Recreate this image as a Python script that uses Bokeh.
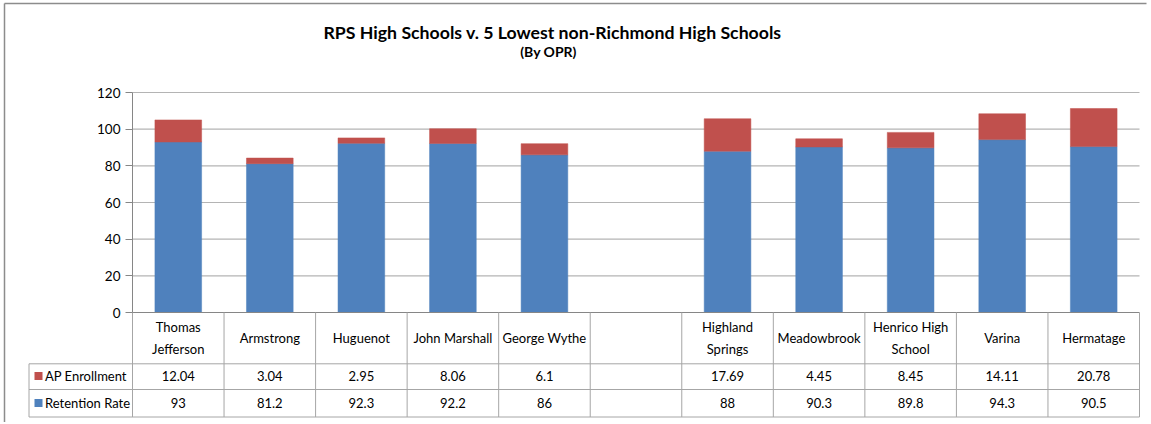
from bokeh.plotting import figure
from bokeh.models import ColumnDataSource, Range1d, FixedTicker
from bokeh.core.properties import value
from bokeh.embed import file_html
from bokeh.resources import INLINE

# ---------------- data ----------------
TITLE = "RPS High Schools v. 5 Lowest non-Richmond High Schools"
SUBTITLE = "(By OPR)"
schools = ["Thomas Jefferson", "Armstrong", "Huguenot", "John Marshall", "George Wythe",
           "Highland Springs", "Meadowbrook", "Henrico High School", "Varina", "Hermatage"]
header_labels = ["Thomas\nJefferson", "Armstrong", "Huguenot", "John Marshall", "George Wythe",
                 "Highland\nSprings", "Meadowbrook", "Henrico High\nSchool", "Varina", "Hermatage"]
series_names = ["AP Enrollment", "Retention Rate"]
ap_enrollment = [12.04, 3.04, 2.95, 8.06, 6.1, 17.69, 4.45, 8.45, 14.11, 20.78]
retention_rate = [93, 81.2, 92.3, 92.2, 86, 88, 90.3, 89.8, 94.3, 90.5]
y_ticks = [0, 20, 40, 60, 80, 100, 120]
group_sizes = [5, 5]   # RPS schools, non-Richmond schools (blank column between)

# ---------------- style ----------------
RED = "#C0504D"
BLUE = "#4F81BD"
GRID = "#B4B4B4"
AXIS = "#868686"
TLINE = "#A6A6A6"
FRAME = "#8C8C8C"
FONT = "Lato"
FS = "13px"

# ---------------- layout (canvas pixels) ----------------
W, H = 1148, 422
PLOT_L, PLOT_R = 132, 1139   # plot area left / right
Y0 = 312                     # canvas y of value 0
Y120 = 92                    # canvas y of value 120
PX = (Y0 - Y120) / 120.0

x_pos = []
start = 0
for g in group_sizes:
    x_pos.extend(range(start, start + g))
    start += g + 1
n_slots = start - 1
slot_px = (PLOT_R - PLOT_L) / n_slots


def xd(cx):
    return -0.5 + (cx - PLOT_L) / slot_px


def yd(cy):
    return (Y0 - cy) / PX


x_lo, x_hi = -0.5, n_slots - 0.5

p = figure(width=W, height=H,
           x_range=Range1d(xd(0), xd(W)),
           y_range=Range1d(yd(H), yd(0)),
           output_backend="svg", toolbar_location=None,
           x_axis_location=None, y_axis_location="left",
           min_border_left=0, min_border_right=0,
           min_border_top=0, min_border_bottom=0)
p.outline_line_color = None
p.grid.visible = False
p.background_fill_color = "white"
p.border_fill_color = "white"

# chart frame (left and top edges visible)
p.segment(x0=[xd(4), xd(4)], y0=[yd(3), yd(3)], x1=[xd(4), xd(1146)], y1=[yd(H), yd(3)],
          line_color=FRAME, line_width=1.5)

# value axis placed at plot-area edge
ax = p.yaxis[0]
ax.fixed_location = x_lo
ax.bounds = (y_ticks[0], y_ticks[-1])
ax.ticker = FixedTicker(ticks=y_ticks)
ax.axis_line_color = AXIS
ax.major_tick_line_color = AXIS
ax.major_tick_out = 7
ax.major_tick_in = 0
ax.minor_tick_line_color = None
ax.major_label_standoff = 5
ax.major_label_text_font = FONT
ax.major_label_text_font_size = "13.5px"
ax.major_label_text_color = "#000000"

# gridlines
gl = y_ticks[1:]
p.segment(x0=[x_lo] * len(gl), y0=gl, x1=[x_hi] * len(gl), y1=gl,
          line_color=GRID, line_width=1.2)

# stacked bars
top = [r + a for r, a in zip(retention_rate, ap_enrollment)]
src = ColumnDataSource(dict(x=x_pos, ret=retention_rate, top=top))
p.vbar(x="x", bottom=0, top="ret", width=0.51, source=src,
       fill_color=BLUE, line_color=BLUE, line_width=0.5)
p.vbar(x="x", bottom="ret", top="top", width=0.51, source=src,
       fill_color=RED, line_color=RED, line_width=0.5)

# category axis line (top edge of data table)
p.segment(x0=[x_lo], y0=[0], x1=[x_hi], y1=[0], line_color=AXIS, line_width=1.2)

# data table lines
row1, row2, row3 = yd(363.3), yd(389), yd(416.5)
legend_left = xd(28.5)
vx = [x_lo + k for k in range(n_slots + 1)]
p.segment(x0=vx, y0=[0] * len(vx), x1=vx, y1=[row3] * len(vx),
          line_color=TLINE, line_width=1)
p.segment(x0=[legend_left], y0=[row1], x1=[legend_left], y1=[row3],
          line_color=TLINE, line_width=1)
p.segment(x0=[legend_left] * 3, y0=[row1, row2, row3], x1=[x_hi] * 3, y1=[row1, row2, row3],
          line_color=TLINE, line_width=1)

# header labels
p.text(x=x_pos, y=[yd(337.3)] * len(x_pos), text=header_labels,
       text_font=value(FONT), text_font_size=FS, text_color="#000000",
       text_align="center", text_baseline="middle", text_line_height=1.4)

# values
y_ap, y_ret = yd(375.5), yd(402.5)
p.text(x=x_pos, y=[y_ap] * len(x_pos), text=[f"{v:g}" for v in ap_enrollment],
       text_font=value(FONT), text_font_size=FS, text_color="#000000",
       text_align="center", text_baseline="middle")
p.text(x=x_pos, y=[y_ret] * len(x_pos), text=[f"{v:g}" for v in retention_rate],
       text_font=value(FONT), text_font_size=FS, text_color="#000000",
       text_align="center", text_baseline="middle")

# legend keys in table
p.scatter(x=[xd(38)] * 2, y=[y_ap, y_ret], marker="square", size=8,
          fill_color=[RED, BLUE], line_color=None)
p.text(x=[xd(44.5)] * 2, y=[y_ap, y_ret], text=series_names,
       text_font=value(FONT), text_font_size=FS, text_color="#000000",
       text_align="left", text_baseline="middle")

# titles
p.text(x=[xd(552)], y=[yd(32)], text=[TITLE], text_font=value(FONT),
       text_font_size="17.7px", text_font_style="bold", text_color="#000000",
       text_align="center", text_baseline="alphabetic")
p.text(x=[xd(548)], y=[yd(51)], text=[SUBTITLE], text_font=value(FONT),
       text_font_size="14px", text_font_style="bold", text_color="#000000",
       text_align="center", text_baseline="alphabetic")

open("out.html", "w").write(file_html(p, INLINE))
